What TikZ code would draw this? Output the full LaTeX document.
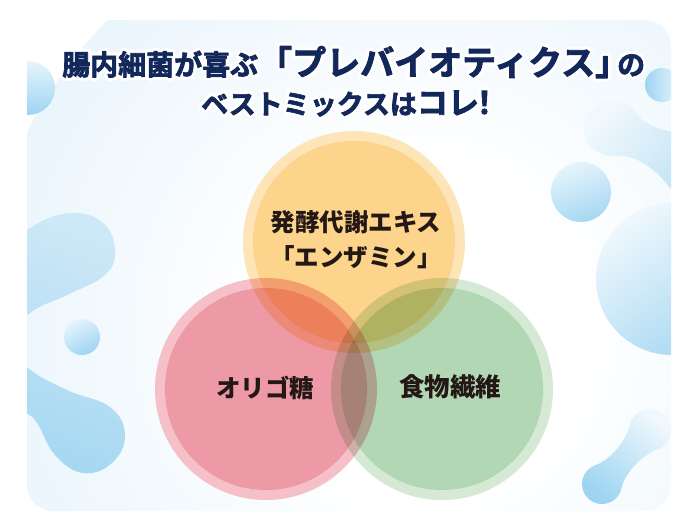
\documentclass[tikz,border=0pt]{standalone}
\usepackage{fontspec}
\newfontfamily\jp{Noto Sans CJK JP}
\newfontfamily\jpheavy{Noto Sans CJK JP}[UprightFont=* Bold, FakeBold=2.5]
\usetikzlibrary{calc}
\definecolor{navy}{HTML}{13285A}
\definecolor{ink}{HTML}{231815}
\definecolor{panelblue}{HTML}{DCEEFA}
\definecolor{orring}{HTML}{FDE5B8}
\definecolor{orfill}{HTML}{FDD48B}
\definecolor{rdring}{HTML}{F5C0C8}
\definecolor{rdfill}{HTML}{EE9AA6}
\definecolor{grring}{HTML}{D5E9D5}
\definecolor{grfill}{HTML}{B2D7B4}
\definecolor{bA}{HTML}{E6F4FC}
\definecolor{bB}{HTML}{9DD4F1}
\definecolor{bC}{HTML}{CDE8F7}
\definecolor{bD}{HTML}{A6D8F2}
\definecolor{bE}{HTML}{F0F8FD}
\definecolor{bF}{HTML}{B5DEF4}

\pgfdeclareradialshading{panelshade}{\pgfpoint{0bp}{0bp}}{color(0bp)=(white); color(9bp)=(white); color(36bp)=(panelblue); color(50bp)=(panelblue)}

\newcommand\halo[1]{%
  \foreach \hang in {0,22.5,...,337.5}{%
    \pgfmathsetlengthmacro\hx{3pt*cos(\hang)}%
    \pgfmathsetlengthmacro\hy{3pt*sin(\hang)}%
    \rlap{\hspace*{\hx}\raisebox{\hy}{\color{white}#1}}%
  }%
  {\color{navy}#1}%
}

% #1 shading opts, #2 A, #3 rA, #4 B, #5 rB, #6 angle A->B, #7 tension
\newcommand\dumbbell[7]{%
  \pgfmathsetmacro\dbA{#6+60}%
  \pgfmathsetmacro\dbAt{#6-30}%
  \pgfmathsetmacro\dbB{#6+300}%
  \pgfmathsetmacro\dbBt{#6+390}%
  \pgfmathsetmacro\dbC{#6+240}%
  \pgfmathsetmacro\dbCt{#6+150}%
  \pgfmathsetmacro\dbD{#6+480}%
  \pgfmathsetmacro\dbDt{#6+570}%
  \shade[#1] ($(#2)+(\dbA:#3)$) arc[start angle=\dbA, end angle=\dbB, radius=#3]
     .. controls +(\dbBt:#7) and +(\dbCt:#7) .. ($(#4)+(\dbC:#5)$)
     arc[start angle=\dbC, end angle=\dbD, radius=#5]
     .. controls +(\dbDt:#7) and +(\dbAt:#7) .. ($(#2)+(\dbA:#3)$) -- cycle;
}

\tikzset{
  titlefont/.style={font=\jpheavy, inner sep=0pt, line join=round},
  venntext/.style={font=\jp\bfseries\fontsize{24.5}{35}\selectfont, text=ink, inner sep=0pt, align=center},
}

\begin{document}
\begin{tikzpicture}[x=1pt,y=-1pt]
\useasboundingbox (0,0) rectangle (700,530);
\fill[white] (0,0) rectangle (700,530);

% panel
\begin{scope}
  \clip[rounded corners=26] (27,20) rectangle (671,511);
  \shade[shading=panelshade] (420,330) circle (440);

  % blobs
  \shade[top color=bA, bottom color=bB] (28,88) circle (27);
  \shade[left color=bC, right color=bD, shading angle=-20] plot[smooth cycle, tension=0.7] coordinates {(72,213) (103,223) (115,250) (105,275) (67,295) (30,313) (12,340) (27,367) (67,390) (110,407) (125,435) (112,463) (83,473) (55,455) (35,420) (10,395) (-10,300) (10,250) (35,225)};
  \shade[top color=bA, bottom color=bB, shading angle=30] (82,337) circle (18);
  \shade[left color=bB, right color=bA] (662,85) circle (17);
  \coordinate (rbA) at (612,128);
  \coordinate (rbB) at (700,168);
  \dumbbell{top color=bE, bottom color=bF, shading angle=50}{rbA}{28}{rbB}{36}{24.4}{22}
  \shade[top color=bA, bottom color=bD, shading angle=20] (581,192) circle (30);
  \shade[top color=bE, bottom color=bD, shading angle=35] (672,279) circle (76);
  \coordinate (dbA) at (602,484);
  \coordinate (dbB) at (650,430);
  \dumbbell{top color=bE, bottom color=bB, shading angle=-40}{dbA}{20}{dbB}{21}{-48.4}{15}
\end{scope}

% Venn circles
\coordinate (cO) at (354,242);
\coordinate (cR) at (266,389);
\coordinate (cG) at (442,389);
\fill[white] (cO) circle (111) (cR) circle (111) (cG) circle (111);
\begin{scope}[blend mode=multiply]
  \fill[orring, even odd rule] (cO) circle (111) (cO) circle (101);
  \fill[orfill] (cO) circle (101);
  \fill[rdring, even odd rule] (cR) circle (111) (cR) circle (101);
  \fill[rdfill] (cR) circle (101);
  \fill[grring, even odd rule] (cG) circle (111) (cG) circle (101);
  \fill[grfill] (cG) circle (101);
\end{scope}

% title
\node[titlefont, anchor=base west] (t1) at (62,75) {\halo{{\fontsize{28}{30}\selectfont 腸内細菌が喜ぶ}{\fontsize{34}{36}\selectfont 「プレバイオティクス」}\kern-12pt{\fontsize{28}{30}\selectfont の}}};
\node[titlefont, anchor=base west] (t2) at (201,114) {\halo{{\fontsize{27}{30}\selectfont ベストミックスは}{\fontsize{31}{33}\selectfont コレ\kern-10pt！}}};

% circle labels
\node[venntext] (enz) at (356,239.5) {発酵代謝エキス\\「エンザミン」};
\node[venntext] (oli) at (265,388) {オリゴ糖};
\node[venntext, font=\jp\bfseries\fontsize{25.5}{30}\selectfont] (fib) at (450,387) {食物繊維};
\end{tikzpicture}
\end{document}
